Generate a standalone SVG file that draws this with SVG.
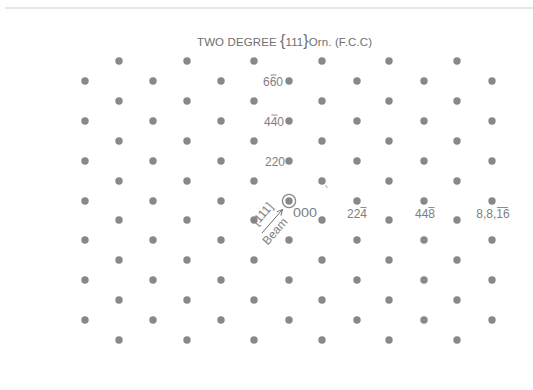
<svg xmlns="http://www.w3.org/2000/svg" xmlns:xlink="http://www.w3.org/1999/xlink" width="533" height="390" viewBox="0 0 533 390">
<style>
.dot{fill:#888888}
.lbl{font-family:"Liberation Sans",Arial,sans-serif;font-size:12px;fill:#808080}
.ttl{font-family:"Liberation Sans",Arial,sans-serif;font-size:11.5px;fill:#707070}
.bar{stroke:#808080;stroke-width:0.9}
.conn{stroke:#6e6e6e;stroke-width:1;fill:none}
</style>
<defs>
<circle id="d" class="dot" r="3.7"/>
<marker id="ah" viewBox="0 0 10 10" refX="9" refY="5" markerWidth="7" markerHeight="7" orient="auto" markerUnits="userSpaceOnUse">
<path d="M1,1 L9,5 L1,9" fill="none" stroke="#6e6e6e" stroke-width="1.4"/>
</marker>
</defs>
<rect width="533" height="390" fill="#ffffff"/>
<line x1="5" y1="8" x2="533" y2="8" stroke="#cfcfcf" stroke-width="1"/>
<text class="ttl" x="197" y="46" textLength="175" lengthAdjust="spacing">TWO DEGREE <tspan font-size="16">{</tspan>111<tspan font-size="16">}</tspan>Orn. (F.C.C)</text>

<g id="row0">
<g id="r0c0"><use href="#d" x="119" y="61"/></g><g id="r0c1"><use href="#d" x="187" y="61"/></g><g id="r0c2"><use href="#d" x="254" y="61"/></g><g id="r0c3"><use href="#d" x="322" y="61"/></g><g id="r0c4"><use href="#d" x="389" y="61"/></g><g id="r0c5"><use href="#d" x="457" y="61"/></g>
</g>
<g id="row1">
<g id="r1c0"><use href="#d" x="85" y="81"/></g><g id="r1c1"><use href="#d" x="153" y="81"/></g><g id="r1c2"><use href="#d" x="221" y="81"/></g>
<g id="spot-660"><use href="#d" x="289" y="81"/><text class="lbl" x="283" y="85.5" text-anchor="end">660</text><line class="bar" x1="270.5" y1="75" x2="276.5" y2="75"/></g>
<g id="r1c4"><use href="#d" x="357" y="81"/></g><g id="r1c5"><use href="#d" x="424" y="81"/></g><g id="r1c6"><use href="#d" x="492" y="81"/></g>
</g>
<g id="row2">
<g id="r2c0"><use href="#d" x="119" y="101"/></g><g id="r2c1"><use href="#d" x="187" y="101"/></g><g id="r2c2"><use href="#d" x="254" y="101"/></g><g id="r2c3"><use href="#d" x="322" y="101"/></g><g id="r2c4"><use href="#d" x="389" y="101"/></g><g id="r2c5"><use href="#d" x="457" y="101"/></g>
</g>
<g id="row3">
<g id="r3c0"><use href="#d" x="85" y="121"/></g><g id="r3c1"><use href="#d" x="153" y="121"/></g><g id="r3c2"><use href="#d" x="221" y="121"/></g>
<g id="spot-440"><use href="#d" x="289" y="121"/><text class="lbl" x="284" y="125.5" text-anchor="end">440</text><line class="bar" x1="271.5" y1="115" x2="277.5" y2="115"/></g>
<g id="r3c4"><use href="#d" x="357" y="121"/></g><g id="r3c5"><use href="#d" x="424" y="121"/></g><g id="r3c6"><use href="#d" x="492" y="121"/></g>
</g>
<g id="row4">
<g id="r4c0"><use href="#d" x="119" y="141"/></g><g id="r4c1"><use href="#d" x="187" y="141"/></g><g id="r4c2"><use href="#d" x="254" y="141"/></g><g id="r4c3"><use href="#d" x="322" y="141"/></g><g id="r4c4"><use href="#d" x="389" y="141"/></g><g id="r4c5"><use href="#d" x="457" y="141"/></g>
</g>
<g id="row5">
<g id="r5c0"><use href="#d" x="85" y="161"/></g><g id="r5c1"><use href="#d" x="153" y="161"/></g><g id="r5c2"><use href="#d" x="221" y="161"/></g>
<g id="spot-220"><use href="#d" x="289" y="161"/><text class="lbl" x="285" y="165.5" text-anchor="end">220</text></g>
<g id="r5c4"><use href="#d" x="357" y="161"/></g><g id="r5c5"><use href="#d" x="424" y="161"/></g><g id="r5c6"><use href="#d" x="492" y="161"/></g>
</g>
<g id="row6">
<g id="r6c0"><use href="#d" x="119" y="181"/></g><g id="r6c1"><use href="#d" x="187" y="181"/></g><g id="r6c2"><use href="#d" x="254" y="181"/></g><g id="r6c3"><use href="#d" x="322" y="181"/><line x1="325.5" y1="185" x2="327.5" y2="188" stroke="#8a8a8a" stroke-width="0.8"/></g><g id="r6c4"><use href="#d" x="389" y="181"/></g><g id="r6c5"><use href="#d" x="457" y="181"/></g>
</g>
<g id="row7">
<g id="r7c0"><use href="#d" x="85" y="201"/></g><g id="r7c1"><use href="#d" x="153" y="201"/></g><g id="r7c2"><use href="#d" x="221" y="201"/></g>
<g id="spot-000"><circle cx="289" cy="201" r="6.6" fill="none" stroke="#888888" stroke-width="1.3"/><circle class="dot" cx="289" cy="201" r="3.7"/><text class="lbl" x="305" y="216.5" text-anchor="middle" font-size="12.5" textLength="24" lengthAdjust="spacingAndGlyphs">000</text></g>
<g id="spot-224"><use href="#d" x="357" y="201"/><text class="lbl" x="357" y="217.5" text-anchor="middle">224</text><line class="bar" x1="360.5" y1="207.5" x2="366.5" y2="207.5"/></g>
<g id="spot-448"><use href="#d" x="424" y="201"/><text class="lbl" x="425" y="217.5" text-anchor="middle">448</text><line class="bar" x1="428.5" y1="207.5" x2="434.5" y2="207.5"/></g>
<g id="spot-8816"><use href="#d" x="492" y="201"/><text class="lbl" x="493" y="217.5" text-anchor="middle">8,8,16</text><line class="bar" x1="497" y1="207.5" x2="508" y2="207.5"/></g>
</g>
<g id="row8">
<g id="r8c0"><use href="#d" x="119" y="220"/></g><g id="r8c1"><use href="#d" x="187" y="220"/></g><g id="r8c2"><use href="#d" x="254" y="220"/></g><g id="r8c3"><use href="#d" x="322" y="220"/></g><g id="r8c4"><use href="#d" x="389" y="220"/></g><g id="r8c5"><use href="#d" x="457" y="220"/></g>
</g>
<g id="row9">
<g id="r9c0"><use href="#d" x="85" y="240"/></g><g id="r9c1"><use href="#d" x="153" y="240"/></g><g id="r9c2"><use href="#d" x="221" y="240"/></g><g id="r9c3"><use href="#d" x="289" y="240"/></g><g id="r9c4"><use href="#d" x="357" y="240"/></g><g id="r9c5"><use href="#d" x="424" y="240"/></g><g id="r9c6"><use href="#d" x="492" y="240"/></g>
</g>
<g id="row10">
<g id="r10c0"><use href="#d" x="119" y="260"/></g><g id="r10c1"><use href="#d" x="187" y="260"/></g><g id="r10c2"><use href="#d" x="254" y="260"/></g><g id="r10c3"><use href="#d" x="322" y="260"/></g><g id="r10c4"><use href="#d" x="389" y="260"/></g><g id="r10c5"><use href="#d" x="457" y="260"/></g>
</g>
<g id="row11">
<g id="r11c0"><use href="#d" x="85" y="280"/></g><g id="r11c1"><use href="#d" x="153" y="280"/></g><g id="r11c2"><use href="#d" x="221" y="280"/></g><g id="r11c3"><use href="#d" x="289" y="280"/></g><g id="r11c4"><use href="#d" x="357" y="280"/></g><g id="r11c5"><use href="#d" x="424" y="280"/></g><g id="r11c6"><use href="#d" x="492" y="280"/></g>
</g>
<g id="row12">
<g id="r12c0"><use href="#d" x="119" y="300"/></g><g id="r12c1"><use href="#d" x="187" y="300"/></g><g id="r12c2"><use href="#d" x="254" y="300"/></g><g id="r12c3"><use href="#d" x="322" y="300"/></g><g id="r12c4"><use href="#d" x="389" y="300"/></g><g id="r12c5"><use href="#d" x="457" y="300"/></g>
</g>
<g id="row13">
<g id="r13c0"><use href="#d" x="85" y="320"/></g><g id="r13c1"><use href="#d" x="153" y="320"/></g><g id="r13c2"><use href="#d" x="221" y="320"/></g><g id="r13c3"><use href="#d" x="289" y="320"/></g><g id="r13c4"><use href="#d" x="357" y="320"/></g><g id="r13c5"><use href="#d" x="424" y="320"/></g><g id="r13c6"><use href="#d" x="492" y="320"/></g>
</g>
<g id="row14">
<g id="r14c0"><use href="#d" x="119" y="340"/></g><g id="r14c1"><use href="#d" x="187" y="340"/></g><g id="r14c2"><use href="#d" x="254" y="340"/></g><g id="r14c3"><use href="#d" x="322" y="340"/></g><g id="r14c4"><use href="#d" x="389" y="340"/></g><g id="r14c5"><use href="#d" x="457" y="340"/></g>
</g>

<g id="connectors">
<line class="conn" x1="262" y1="233" x2="282.5" y2="209.5" marker-end="url(#ah)"/>
<text class="lbl" font-size="10.5" fill="#6e6e6e" transform="translate(265.5,216.5) rotate(-49)" text-anchor="middle">[111]</text>
<text class="lbl" font-size="11.5" fill="#6e6e6e" transform="translate(278,234) rotate(-49)" text-anchor="middle">Beam</text>
</g>
</svg>
